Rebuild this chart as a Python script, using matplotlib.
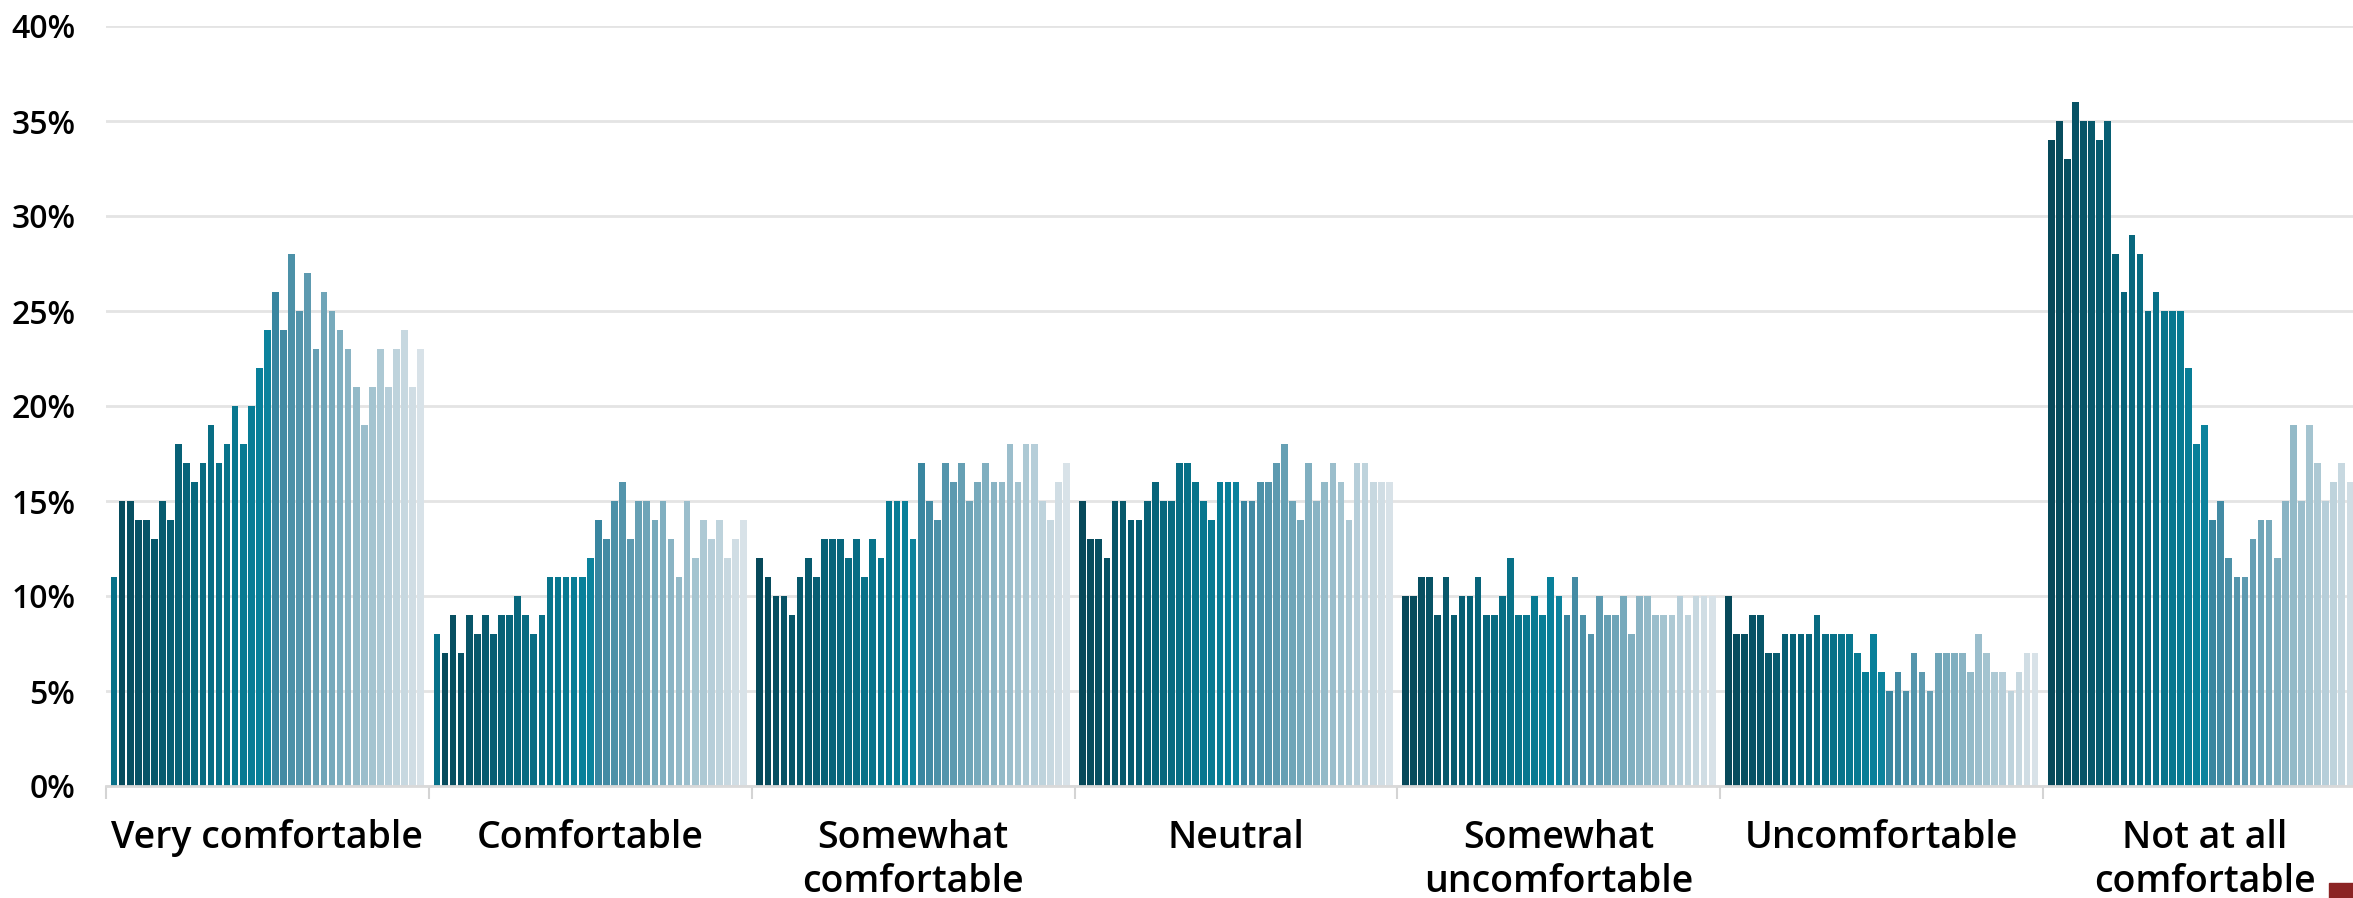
import numpy as np
import matplotlib.pyplot as plt
from matplotlib.colors import LinearSegmentedColormap
from matplotlib.patches import Rectangle

plt.rcParams['font.family'] = ['Open Sans', 'DejaVu Sans']

categories = ["Very comfortable", "Comfortable", "Somewhat\ncomfortable", "Neutral",
              "Somewhat\nuncomfortable", "Uncomfortable", "Not at all\ncomfortable"]

# one value per sub-series (39 of them) inside each category, in %
very_comfortable = [11, 15, 15, 14, 14, 13, 15, 14, 18, 17, 16, 17, 19, 17, 18, 20, 18, 20, 22, 24,
                    26, 24, 28, 25, 27, 23, 26, 25, 24, 23, 21, 19, 21, 23, 21, 23, 24, 21, 23]
comfortable = [8, 7, 9, 7, 9, 8, 9, 8, 9, 9, 10, 9, 8, 9, 11, 11, 11, 11, 11, 12,
               14, 13, 15, 16, 13, 15, 15, 14, 15, 13, 11, 15, 12, 14, 13, 14, 12, 13, 14]
somewhat_comfortable = [12, 11, 10, 10, 9, 11, 12, 11, 13, 13, 13, 12, 13, 11, 13, 12, 15, 15, 15, 13,
                        17, 15, 14, 17, 16, 17, 15, 16, 17, 16, 16, 18, 16, 18, 18, 15, 14, 16, 17]
neutral = [15, 13, 13, 12, 15, 15, 14, 14, 15, 16, 15, 15, 17, 17, 16, 15, 14, 16, 16, 16,
           15, 15, 16, 16, 17, 18, 15, 14, 17, 15, 16, 17, 16, 14, 17, 17, 16, 16, 16]
somewhat_uncomfortable = [10, 10, 11, 11, 9, 11, 9, 10, 10, 11, 9, 9, 10, 12, 9, 9, 10, 9, 11, 10,
                          9, 11, 9, 8, 10, 9, 9, 10, 8, 10, 10, 9, 9, 9, 10, 9, 10, 10, 10]
uncomfortable = [10, 8, 8, 9, 9, 7, 7, 8, 8, 8, 8, 9, 8, 8, 8, 8, 7, 6, 8, 6,
                 5, 6, 5, 7, 6, 5, 7, 7, 7, 7, 6, 8, 7, 6, 6, 5, 6, 7, 7]
not_at_all_comfortable = [34, 35, 33, 36, 35, 35, 34, 35, 28, 26, 29, 28, 25, 26, 25, 25, 25, 22, 18, 19,
                          14, 15, 12, 11, 11, 13, 14, 14, 12, 15, 19, 15, 19, 17, 15, 16, 17, 16, 16]

groups = [very_comfortable, comfortable, somewhat_comfortable, neutral,
          somewhat_uncomfortable, uncomfortable, not_at_all_comfortable]
n = len(very_comfortable)
slot = n + 1  # one empty slot between categories

shade = LinearSegmentedColormap.from_list(
    "shade", [(0.0, "#07495a"), (0.5, "#08839d"), (0.526, "#3a86a0"), (1.0, "#d8e2e8")])
colors = [shade(i / (n - 1)) for i in range(n)]

fig = plt.figure(figsize=(23.53, 8.98), dpi=100)
ax = fig.add_axes([106 / 2353, 112 / 898, 2260 / 2353, 760 / 898])

for k, vals in enumerate(groups):
    x = k * slot + 1 + np.arange(n)
    cols = list(colors)
    if k < 2:
        cols[0] = "#077189"
    ax.bar(x, vals, width=0.82, color=cols, zorder=2)

ax.set_xlim(0, slot * len(groups))
ax.set_ylim(0, 40)

ax.set_yticks(range(0, 41, 5))
ax.set_yticklabels([f"{v}%" for v in range(0, 41, 5)], fontweight='semibold')
ax.yaxis.grid(True, color="#e4e4e4", lw=2)
ax.set_axisbelow(True)

ax.set_xticks([k * slot for k in range(len(groups) + 1)])
ax.set_xticklabels([])
ax.set_xticks([k * slot + slot / 2 for k in range(len(groups))], minor=True)
ax.set_xticklabels(categories, minor=True, fontsize=27, linespacing=1.2,
                   fontweight='semibold')

ax.tick_params(axis='x', which='major', length=9, width=1.5, color="#d4d4d4")
ax.tick_params(axis='x', which='minor', length=0, pad=24)
ax.tick_params(axis='y', length=0, pad=22, labelsize=23)

for s in ['top', 'right', 'left']:
    ax.spines[s].set_visible(False)
ax.spines['bottom'].set_color("#d9d9d9")
ax.spines['bottom'].set_linewidth(2)

# small red marker peeking in at the bottom-right corner
fig.patches.append(Rectangle((2329 / 2353, 0), 24 / 2353, 15 / 898,
                             transform=fig.transFigure, color="#8b2424"))

fig.savefig("out.png", dpi=100)
